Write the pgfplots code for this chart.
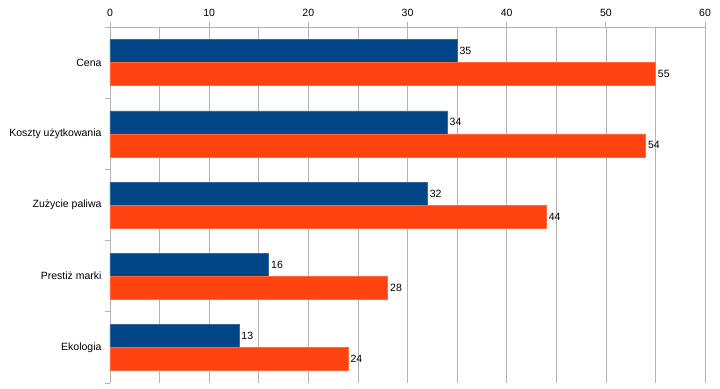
\documentclass[border=0pt]{standalone}
\usepackage{pgfplots}
\pgfplotsset{compat=1.18}
\usepackage{fontspec}
\setmainfont{Liberation Sans}
\definecolor{cblue}{HTML}{004586}
\definecolor{corange}{HTML}{FF420E}
\definecolor{gridc}{HTML}{B3B3B3}
\begin{document}
\begin{tikzpicture}
\begin{axis}[
  scale only axis, width=595pt, height=356pt,
  xmin=0, xmax=60, ymin=-0.5, ymax=4.5, y dir=reverse,
  axis x line*=top, axis y line*=left,
  axis line style={gridc, line width=0.8pt},
  xtick={0,10,...,60}, minor xtick={5,15,...,55},
  xmajorgrids, xminorgrids,
  grid style={gridc, line width=0.6pt},
  minor x tick style={draw=none},
  major tick length=5pt,
  tick style={gridc, line width=0.8pt},
  tick align=outside,
  ytick={-0.5,0.5,...,4.5}, yticklabels={},
  extra y ticks={0,1,2,3,4},
  extra y tick labels={Cena,Koszty użytkowania,Zużycie paliwa,Prestiż marki,Ekologia},
  extra y tick style={major tick length=0pt, ytick style={draw=none}},
  ticklabel style={font=\fontsize{10.5}{12}\selectfont, text=black},
  /pgf/number format/assume math mode=true,
  xticklabel style={yshift=2pt},
  yticklabel style={xshift=-5pt},
  xbar, bar width=0.323,
  nodes near coords,
  nodes near coords style={font=\fontsize{10.5}{12}\selectfont, text=black, anchor=west, xshift=-1pt},
]
\addplot[fill=cblue, draw=cblue!80!white, bar shift=-0.1615] coordinates {(35,0) (34,1) (32,2) (16,3) (13,4)};
\addplot[fill=corange, draw=corange!80!white, bar shift=0.1615] coordinates {(55,0) (54,1) (44,2) (28,3) (24,4)};
\end{axis}
\pgfresetboundingbox
\path ([shift={(-110pt,27pt)}]current axis.north west) rectangle ([shift={(15pt,-6pt)}]current axis.south east);
\end{tikzpicture}
\end{document}
